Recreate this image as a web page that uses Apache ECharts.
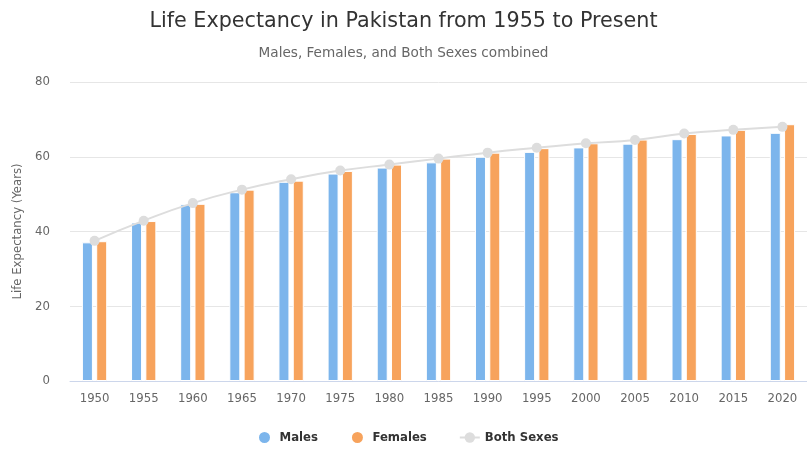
<!DOCTYPE html>
<html>
<head>
<meta charset="utf-8">
<title>Life Expectancy in Pakistan</title>
<script src="https://cdn.jsdelivr.net/npm/echarts@6/dist/echarts.min.js"></script>
<style>
	html, body { margin: 0; padding: 0; background: #fff; }
	#lineChart { width: 807px; height: 449px; }
</style>
</head>
<body>
<div id="lineChart"></div>
<script>
// 年份
var years = ['1950', '1955', '1960', '1965', '1970', '1975', '1980', '1985', '1990', '1995', '2000', '2005', '2010', '2015', '2020'];
// 男性
var males = [37.1, 42.4, 47.3, 50.5, 53.3, 55.5, 57.1, 58.5, 60.0, 61.3, 62.5, 63.5, 64.7, 65.7, 66.4];
// 女性
var females = [37.4, 42.8, 47.4, 51.2, 53.6, 56.2, 57.9, 59.5, 61.1, 62.3, 63.6, 64.6, 66.1, 67.2, 68.7];
// 总体
var bothSexes = [37.5, 42.9, 47.6, 51.2, 54.0, 56.3, 57.9, 59.5, 61.1, 62.4, 63.6, 64.5, 66.2, 67.2, 68.0];
var yTicks = [0, 20, 40, 60, 80];

var byId = function(id) {
	return document.getElementById(id);
};

var fontName = '"DejaVu Sans Condensed", "DejaVu Sans", sans-serif';
var titleFont = '"DejaVu Sans", sans-serif';

var option = {
	animation: false,
	textStyle: {
		fontFamily: fontName
	},
	title: {
		text: 'Life Expectancy in Pakistan from 1955 to Present',
		subtext: 'Males, Females, and Both Sexes combined',
		left: 'center',
		top: 6,
		itemGap: 14,
		textStyle: {
			fontFamily: titleFont,
			fontSize: 20.7,
			fontWeight: 'normal',
			color: '#333333'
		},
		subtextStyle: {
			fontFamily: titleFont,
			fontSize: 13.6,
			color: '#666666'
		}
	},
	legend: {
		top: 425,
		left: 252,
		itemGap: 32,
		itemWidth: 20,
		itemHeight: 13,
		textStyle: {
			fontFamily: fontName,
			fontSize: 13,
			fontWeight: 'bold',
			color: '#333333'
		},
		data: [
			{name: 'Males', icon: 'circle'},
			{name: 'Females', icon: 'circle'},
			{name: 'Both Sexes'}
		]
	},
	grid: {
		left: 70,
		right: -6,
		top: 82,
		bottom: 68
	},
	xAxis: [{
		type: 'category',
		data: years,
		axisLine: {
			lineStyle: {color: '#ccd6eb'}
		},
		axisTick: {show: false},
		axisLabel: {
			color: '#666666',
			fontSize: 13,
			margin: 11
		}
	}],
	yAxis: [{
		type: 'value',
		min: yTicks[0],
		max: yTicks[yTicks.length - 1],
		interval: 20,
		name: 'Life Expectancy (Years)',
		nameLocation: 'middle',
		nameGap: 46,
		nameTextStyle: {
			color: '#666666',
			fontSize: 13
		},
		axisLabel: {
			color: '#666666',
			fontSize: 13,
			margin: 20
		},
		splitLine: {
			lineStyle: {color: '#e6e6e6'}
		}
	}],
	series: [{
		name: 'Males',
		type: 'bar',
		data: males,
		barWidth: 11,
		barGap: '30%',
		itemStyle: {
			color: '#7cb5ec',
			borderColor: '#ffffff',
			borderWidth: 1
		}
	}, {
		name: 'Females',
		type: 'bar',
		data: females,
		barWidth: 11,
		barGap: '30%',
		itemStyle: {
			color: '#f7a35c',
			borderColor: '#ffffff',
			borderWidth: 1
		}
	}, {
		name: 'Both Sexes',
		type: 'line',
		data: bothSexes,
		smooth: true,
		symbol: 'circle',
		symbolSize: 10,
		z: 5,
		lineStyle: {
			color: '#dddddd',
			width: 2
		},
		itemStyle: {
			color: '#dddddd'
		}
	}]
};

var lineChart = echarts.init(byId('lineChart'));
lineChart.setOption(option);
</script>
</body>
</html>
